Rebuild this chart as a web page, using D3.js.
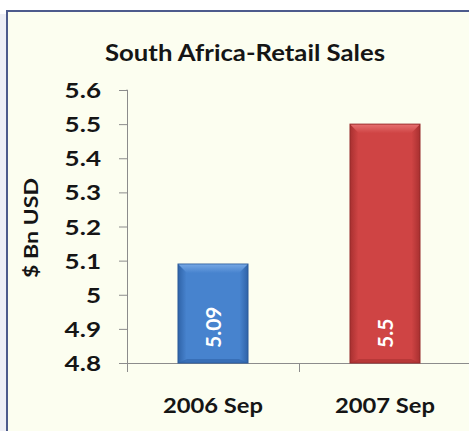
<!DOCTYPE html>
<html>
<head>
<meta charset="utf-8">
<script src="https://cdn.jsdelivr.net/npm/d3@7"></script>
<style>
  html, body { margin: 0; padding: 0; background: #ffffff; overflow: hidden; }
  svg { display: block; }
</style>
</head>
<body>
<svg id="chart" width="469" height="431"></svg>
<script>
// Retail sales in South Africa, billions of US dollars
const categories = ["2006 Sep", "2007 Sep"];
const salesValues = [5.09, 5.5];
const yTicks = [4.8, 4.9, 5, 5.1, 5.2, 5.3, 5.4, 5.5, 5.6];

const barPalette = [
  { base: "#4783ce", light: "#74a6e3", dark: "#2f63a8", edge: "#2b5a99" },
  { base: "#cf4444", light: "#e56e6e", dark: "#a83030", edge: "#952a2a" }
];

const W = 469, H = 431;
const font = "Lato, 'Open Sans', sans-serif";
const ink = "#151515";
const svg = d3.select("#chart");

// page surround and chart panel
svg.append("rect").attr("width", W).attr("height", H).attr("fill", "#ffffff");
svg.append("rect").attr("x", 0).attr("y", 14).attr("width", 7).attr("height", H)
  .attr("fill", "#eeeff6");
svg.append("rect").attr("x", 7).attr("y", 11).attr("width", W + 10).attr("height", H)
  .attr("fill", "#fcfef0").attr("stroke", "#4d5b8c").attr("stroke-width", 2);

const plot = { left: 127, right: 471, top: 90, bottom: 363 };

const y = d3.scaleLinear().domain([4.8, 5.6]).range([plot.bottom, plot.top]);
const x = d3.scaleBand().domain(categories)
  .range([plot.left, plot.right])
  .paddingInner(0.593).paddingOuter(0.593 / 2);

// title
svg.append("text")
  .attr("x", 245).attr("y", 61)
  .attr("text-anchor", "middle")
  .attr("font-family", font).attr("font-weight", 700)
  .attr("font-size", 23).attr("fill", ink)
  .attr("textLength", 280).attr("lengthAdjust", "spacingAndGlyphs")
  .text("South Africa-Retail Sales");

// y axis
const yAxis = svg.append("g")
  .attr("transform", `translate(${plot.left},0)`)
  .call(d3.axisLeft(y).tickValues(yTicks).tickSize(8)
    .tickFormat(d => String(+d.toFixed(1))));
yAxis.select(".domain").attr("stroke", "#8c8c8c").attr("d", `M-0.5,${plot.top}H0.5V${plot.bottom}`);
yAxis.selectAll(".tick line").attr("stroke", "#8c8c8c");
yAxis.selectAll(".tick text")
  .attr("x", 0).attr("dy", "0.36em")
  .attr("transform", "translate(-26,0) scale(1.24,1)")
  .attr("font-family", font).attr("font-weight", 700)
  .attr("font-size", 21).attr("fill", ink);

// y axis title
svg.append("text")
  .attr("transform", `translate(38,228) rotate(-90)`)
  .attr("text-anchor", "middle")
  .attr("font-family", font).attr("font-weight", 700)
  .attr("font-size", 19.5).attr("fill", ink)
  .attr("textLength", 100).attr("lengthAdjust", "spacingAndGlyphs")
  .text("$ Bn USD");

// x axis with ticks at category boundaries
const step = x.step();
const boundaries = categories.map(c => x(c) - step * x.paddingInner() / 2)
  .concat([x(categories[categories.length - 1]) + x.bandwidth() + step * x.paddingInner() / 2]);
const xb = d3.scaleLinear().domain([0, boundaries.length - 1])
  .range([boundaries[0], boundaries[boundaries.length - 1]]);
const xAxis = svg.append("g")
  .attr("transform", `translate(0,${plot.bottom})`)
  .call(d3.axisBottom(xb).tickValues(d3.range(boundaries.length)).tickSize(9).tickFormat(""));
xAxis.select(".domain").attr("stroke", "#8c8c8c");
xAxis.selectAll(".tick line").attr("stroke", "#8c8c8c");

svg.append("g").selectAll("text").data(categories).join("text")
  .attr("x", d => x(d) + x.bandwidth() / 2)
  .attr("y", 413)
  .attr("text-anchor", "middle")
  .attr("font-family", font).attr("font-weight", 700)
  .attr("font-size", 21).attr("fill", ink)
  .attr("textLength", 100).attr("lengthAdjust", "spacingAndGlyphs")
  .text(d => d);

// bevelled bars
const defs = svg.append("defs");
barPalette.forEach((p, i) => {
  const g = defs.append("linearGradient").attr("id", "barGrad" + i)
    .attr("x1", 0).attr("x2", 1).attr("y1", 0).attr("y2", 0);
  g.append("stop").attr("offset", 0).attr("stop-color", p.dark);
  g.append("stop").attr("offset", 0.12).attr("stop-color", p.base);
  g.append("stop").attr("offset", 0.88).attr("stop-color", p.base);
  g.append("stop").attr("offset", 1).attr("stop-color", p.dark);
  const t = defs.append("linearGradient").attr("id", "topGrad" + i)
    .attr("x1", 0).attr("x2", 0).attr("y1", 0).attr("y2", 1);
  t.append("stop").attr("offset", 0).attr("stop-color", p.light);
  t.append("stop").attr("offset", 1).attr("stop-color", p.base);
});

const bars = svg.append("g").selectAll("g").data(categories).join("g");
const bevel = 9;
bars.each(function (c, i) {
  const g = d3.select(this);
  const x0 = x(c), w = x.bandwidth();
  const y0 = y(salesValues[i]), y1 = y(4.8);
  const p = barPalette[i];
  g.append("rect").attr("x", x0).attr("y", y0).attr("width", w).attr("height", y1 - y0)
    .attr("fill", `url(#barGrad${i})`).attr("stroke", p.edge).attr("stroke-width", 1);
  g.append("path")
    .attr("d", `M${x0 + 0.5},${y0 + 0.5}H${x0 + w - 0.5}L${x0 + w - bevel},${y0 + bevel}H${x0 + bevel}Z`)
    .attr("fill", `url(#topGrad${i})`);
  g.append("path")
    .attr("d", `M${x0 + 0.5},${y1}H${x0 + w - 0.5}L${x0 + w - bevel},${y1 - 4}H${x0 + bevel}Z`)
    .attr("fill", p.dark).attr("opacity", 0.6);
  g.append("text")
    .attr("transform", `translate(${x0 + w / 2 + 8},${y1 - 15}) rotate(-90)`)
    .attr("font-family", font).attr("font-weight", 700)
    .attr("font-size", 21).attr("fill", "#ffffff")
    .text(String(salesValues[i]));
});
</script>
</body>
</html>
